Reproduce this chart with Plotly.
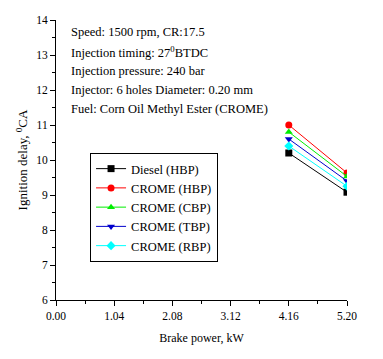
import plotly.graph_objects as go

brake_power = [4.16, 5.20]
diesel_hbp = [10.2, 9.08]
crome_hbp = [11.0, 9.63]
crome_cbp = [10.8, 9.53]
crome_tbp = [10.6, 9.4]
crome_rbp = [10.4, 9.25]

x_ticks = [0.00, 1.04, 2.08, 3.12, 4.16, 5.20]
x_ticklabels = ["0.00", "1.04", "2.08", "3.12", "4.16", "5.20"]
y_ticks = [6, 7, 8, 9, 10, 11, 12, 13, 14]

info_lines = [
    "Speed: 1500 rpm, CR:17.5",
    "Injection timing: 27<sup>0</sup>BTDC",
    "Injection pressure: 240 bar",
    "Injector: 6 holes Diameter: 0.20 mm",
    "Fuel: Corn Oil Methyl Ester (CROME)",
]

series = [
    ("Diesel (HBP)", diesel_hbp, "black", "square"),
    ("CROME (HBP)", crome_hbp, "red", "circle"),
    ("CROME (CBP)", crome_cbp, "#00ee00", "triangle-up"),
    ("CROME (TBP)", crome_tbp, "#0000cc", "triangle-down"),
    ("CROME (RBP)", crome_rbp, "cyan", "diamond"),
]

FONT = "Liberation Serif, Times New Roman, DejaVu Serif, serif"
fig = go.Figure()
for name, vals, color, sym in series:
    fig.add_trace(go.Scatter(
        x=brake_power, y=vals, name=name, mode="lines+markers",
        line=dict(color=color, width=1),
        marker=dict(color=color, symbol=sym, size=7),
    ))

y_pos = [13.66, 13.09, 12.54, 12.0, 11.46]
for txt, yp in zip(info_lines, y_pos):
    fig.add_annotation(x=0.24, y=yp, xref="x", yref="y", text=txt,
                       showarrow=False, xanchor="left", yanchor="middle",
                       font=dict(family=FONT, size=12.5, color="black"))

fig.update_layout(
    width=375, height=343,
    margin=dict(l=48, r=36, t=12, b=51, autoexpand=False),
    paper_bgcolor="white", plot_bgcolor="white",
    font=dict(family=FONT, size=11.5, color="black"),
    showlegend=True,
    legend=dict(x=0.117, y=0.525, xanchor="left", yanchor="top",
                bordercolor="black", borderwidth=1, bgcolor="white",
                font=dict(family=FONT, size=12.5), itemwidth=30,
                tracegroupgap=0),
    xaxis=dict(range=[0, 5.2], tickvals=x_ticks, ticktext=x_ticklabels,
               showgrid=False, zeroline=False, showline=True, automargin=False,
               linecolor="black", linewidth=1, ticks="outside", ticklen=5,
               tickcolor="black",
               minor=dict(dtick=0.52, tick0=0, ticks="outside", ticklen=3, tickcolor="black"),
               title=dict(text="Brake power, kW", font=dict(family=FONT, size=12), standoff=12),
               tickfont=dict(family=FONT, size=11.5)),
    yaxis=dict(range=[6, 14], tickvals=y_ticks,
               showgrid=False, zeroline=False, showline=True, automargin=False,
               linecolor="black", linewidth=1, ticks="outside", ticklen=5,
               tickcolor="black",
               minor=dict(dtick=0.5, tick0=0, ticks="outside", ticklen=3, tickcolor="black"),
               title=dict(text="Ignition delay, <sup>0</sup>CA", font=dict(family=FONT, size=13), standoff=5),
               tickfont=dict(family=FONT, size=11.5)),
)

fig.write_html("out.html")
